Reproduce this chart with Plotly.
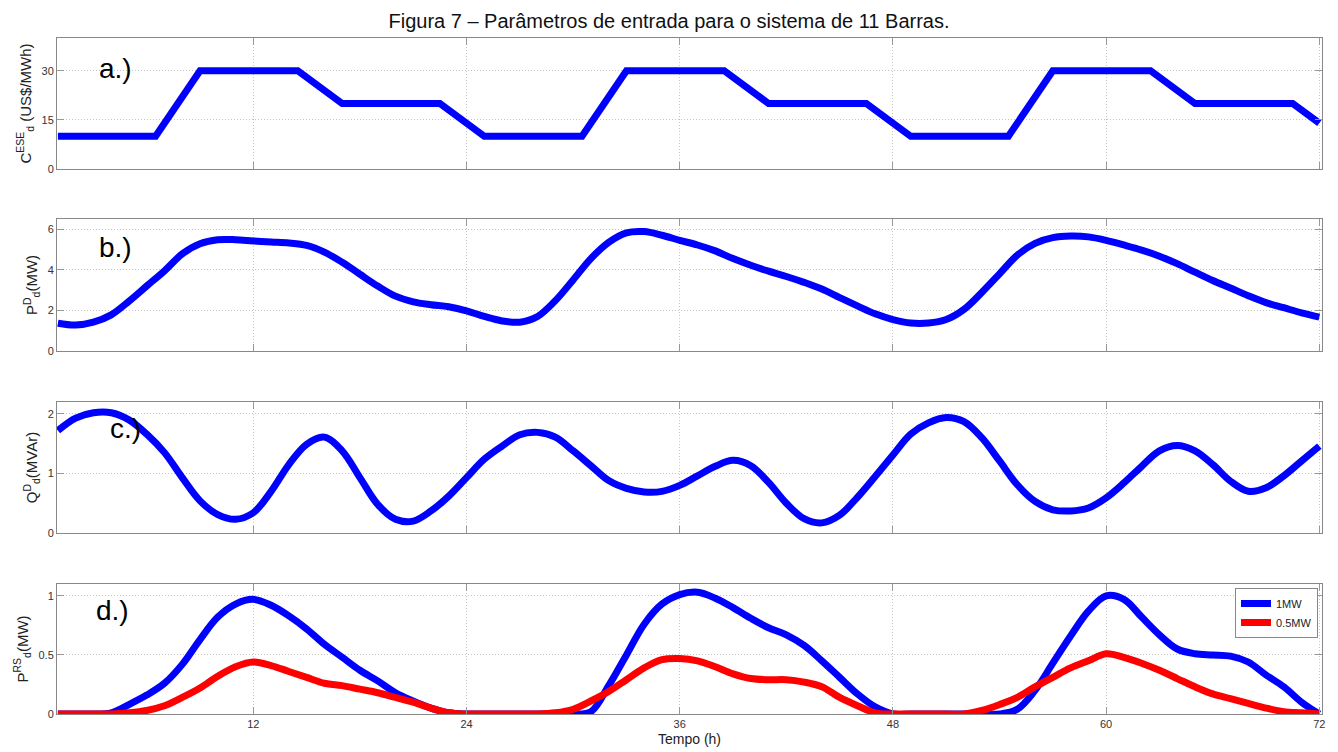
import plotly.graph_objects as go

# ---------------- data ----------------
hours = list(range(1, 73))

# a.) energy cost (piecewise linear breakpoints read from the picture)
cost_hours = [1, 6.5, 9, 14.5, 17, 22.5, 25, 30.5, 33, 38.5, 41, 46.5, 49, 54.5, 57, 62.5, 65, 70.5, 72]
cost_values = [10, 10, 30, 30, 20, 20, 10, 10, 30, 30, 20, 20, 10, 10, 30, 30, 20, 20, 14]

# b.) active demand (MW)
p_demand = [1.37, 1.28, 1.42, 1.78, 2.45, 3.2, 3.95, 4.78, 5.28, 5.48, 5.48, 5.42,
            5.37, 5.32, 5.2, 4.87, 4.37, 3.78, 3.2, 2.7, 2.42, 2.28, 2.18, 1.98,
            1.7, 1.48, 1.42, 1.7, 2.48, 3.5, 4.55, 5.35, 5.82, 5.88, 5.7, 5.45,
            5.22, 4.93, 4.55, 4.22, 3.93, 3.67, 3.38, 3.05, 2.63, 2.22, 1.83, 1.55,
            1.38, 1.38, 1.55, 2.05, 2.88, 3.8, 4.72, 5.3, 5.58, 5.66, 5.62, 5.45,
            5.22, 4.97, 4.67, 4.3, 3.88, 3.47, 3.1, 2.72, 2.38, 2.13, 1.88, 1.67]

# c.) reactive demand (MVAr)
q_demand = [1.72, 1.93, 2.02, 2.02, 1.9, 1.66, 1.35, 0.93, 0.54, 0.31, 0.23, 0.34,
            0.7, 1.15, 1.49, 1.61, 1.38, 0.93, 0.48, 0.23, 0.2, 0.37, 0.62, 0.93,
            1.24, 1.46, 1.65, 1.69, 1.61, 1.38, 1.13, 0.88, 0.75, 0.69, 0.7, 0.8,
            0.96, 1.12, 1.22, 1.13, 0.85, 0.5, 0.24, 0.17, 0.3, 0.6, 0.95, 1.31,
            1.66, 1.85, 1.94, 1.87, 1.6, 1.21, 0.81, 0.53, 0.39, 0.37, 0.42, 0.59,
            0.84, 1.12, 1.38, 1.47, 1.38, 1.15, 0.87, 0.7, 0.76, 0.96, 1.21, 1.46]

# d.) renewable generation (MW)
p_rs_1mw = [0, 0, 0, 0.01, 0.08, 0.16, 0.26, 0.42, 0.63, 0.82, 0.93, 0.97,
            0.92, 0.83, 0.72, 0.59, 0.48, 0.37, 0.28, 0.18, 0.11, 0.05, 0.01, 0,
            0, 0, 0, 0, 0, 0, 0.02, 0.24, 0.5, 0.76, 0.93, 1.01,
            1.03, 0.98, 0.9, 0.81, 0.73, 0.67, 0.58, 0.45, 0.31, 0.17, 0.06, 0,
            0, 0, 0, 0, 0, 0, 0.04, 0.2, 0.43, 0.66, 0.87, 1.0,
            0.97, 0.82, 0.67, 0.55, 0.51, 0.5, 0.49, 0.44, 0.33, 0.23, 0.1, 0]
p_rs_05mw = [0, 0, 0, 0, 0.01, 0.03, 0.07, 0.14, 0.22, 0.32, 0.4, 0.44,
             0.41, 0.36, 0.31, 0.26, 0.24, 0.21, 0.18, 0.14, 0.1, 0.05, 0.01, 0,
             0, 0, 0, 0, 0.01, 0.04, 0.11, 0.19, 0.29, 0.39, 0.46, 0.47,
             0.45, 0.4, 0.34, 0.3, 0.29, 0.29, 0.27, 0.23, 0.14, 0.07, 0.01, 0,
             0, 0, 0, 0, 0.03, 0.08, 0.14, 0.23, 0.31, 0.39, 0.45, 0.51,
             0.48, 0.43, 0.37, 0.3, 0.23, 0.17, 0.13, 0.09, 0.05, 0.02, 0.01, 0]

x_ticks = [12, 24, 36, 48, 60, 72]
y_titles = ["C<sup>ESE</sup><sub>d</sub> (US$/MWh)", "P<sup>D</sup><sub>d</sub>(MW)",
            "Q<sup>D</sup><sub>d</sub>(MVAr)", "P<sup>RS</sup><sub>d</sub>(MW)"]
y_ticks = [[0, 15, 30], [0, 2, 4, 6], [0, 1, 2], [0, 0.5, 1]]
y_ranges = [[0, 40], [0, 6.5], [0, 2.2], [0, 1.1]]
panel_labels = ["a.)", "b.)", "c.)", "d.)"]
legend_names = ["1MW", "0.5MW"]

# ---------------- figure ----------------
W, H = 1338, 752
BLUE, RED = "#0000FF", "#FF0000"
LW = 7

fig = go.Figure()
fig.add_trace(go.Scatter(x=cost_hours, y=cost_values, mode="lines",
                         line=dict(color=BLUE, width=LW), xaxis="x", yaxis="y", showlegend=False))
fig.add_trace(go.Scatter(x=hours, y=p_demand, mode="lines", line=dict(color=BLUE, width=LW, shape="spline"),
                         xaxis="x2", yaxis="y2", showlegend=False))
fig.add_trace(go.Scatter(x=hours, y=q_demand, mode="lines", line=dict(color=BLUE, width=LW, shape="spline"),
                         xaxis="x3", yaxis="y3", showlegend=False))
fig.add_trace(go.Scatter(x=hours, y=p_rs_1mw, mode="lines", name=legend_names[0],
                         line=dict(color=BLUE, width=LW, shape="spline"), xaxis="x4", yaxis="y4"))
fig.add_trace(go.Scatter(x=hours, y=p_rs_05mw, mode="lines", name=legend_names[1],
                         line=dict(color=RED, width=LW, shape="spline"), xaxis="x4", yaxis="y4"))

# pixel positions of each panel (top, bottom)
panel_px = [(38, 169), (219, 351), (402, 533), (584, 714)]
ML, MR = 57, 16

layout = dict(
    width=W, height=H,
    margin=dict(l=ML, r=MR, t=0, b=0),
    paper_bgcolor="white", plot_bgcolor="white",
    font=dict(family="Arial, Liberation Sans, sans-serif", color="#222"),
    title=dict(text="Figura 7 – Parâmetros de entrada para o sistema de 11 Barras.",
               x=0.5, xref="container", xanchor="center",
               y=1 - 21 / H, yref="container", yanchor="middle",
               font=dict(size=20, color="#111")),
    legend=dict(x=(1318 - ML) / (W - ML - MR), y=1 - 588 / H, xanchor="right", yanchor="top",
                bgcolor="white", bordercolor="#888", borderwidth=1,
                font=dict(size=11, color="#222"), tracegroupgap=0),
    showlegend=True,
)

annotations = []
label_pos = [(115, 68), (115, 248), (125, 428), (112, 610)]
for i in range(4):
    n = "" if i == 0 else str(i + 1)
    top, bot = panel_px[i]
    layout["xaxis" + n] = dict(
        domain=[0, 1], range=[0.95, 72.15], anchor="y" + n,
        tickvals=x_ticks, showticklabels=(i == 3),
        tickfont=dict(size=11, color="#333"),
        showgrid=True, gridcolor="#c4c4c4", griddash="1px,2px", gridwidth=1,
        ticks="inside", ticklen=7, tickcolor="#999",
        showline=True, linecolor="#888", linewidth=1, mirror="ticks",
        zeroline=False, automargin=False,
        title=dict(text="Tempo (h)", font=dict(size=14, color="#222"), standoff=4) if i == 3 else None,
    )
    layout["yaxis" + n] = dict(
        domain=[1 - bot / H, 1 - top / H], range=y_ranges[i], anchor="x" + n,
        tickvals=y_ticks[i], tickfont=dict(size=11, color="#333"),
        showgrid=True, gridcolor="#c4c4c4", griddash="1px,2px", gridwidth=1,
        ticks="inside", ticklen=7, tickcolor="#999",
        showline=True, linecolor="#888", linewidth=1, mirror="ticks",
        zeroline=False, automargin=False,
        title=dict(text=y_titles[i], font=dict(size=15, color="#222"), standoff=6),
    )
    lx, ly = label_pos[i]
    annotations.append(dict(text=panel_labels[i], xref="paper", yref="paper",
                            x=(lx - ML) / (W - ML - MR), y=1 - ly / H,
                            xanchor="center", yanchor="middle", showarrow=False,
                            font=dict(size=28, color="#000")))
layout["annotations"] = annotations
fig.update_layout(**layout)

fig.write_html("out.html", config={"displayModeBar": False},
               post_script="document.body.style.margin='0';document.body.style.padding='0';")
